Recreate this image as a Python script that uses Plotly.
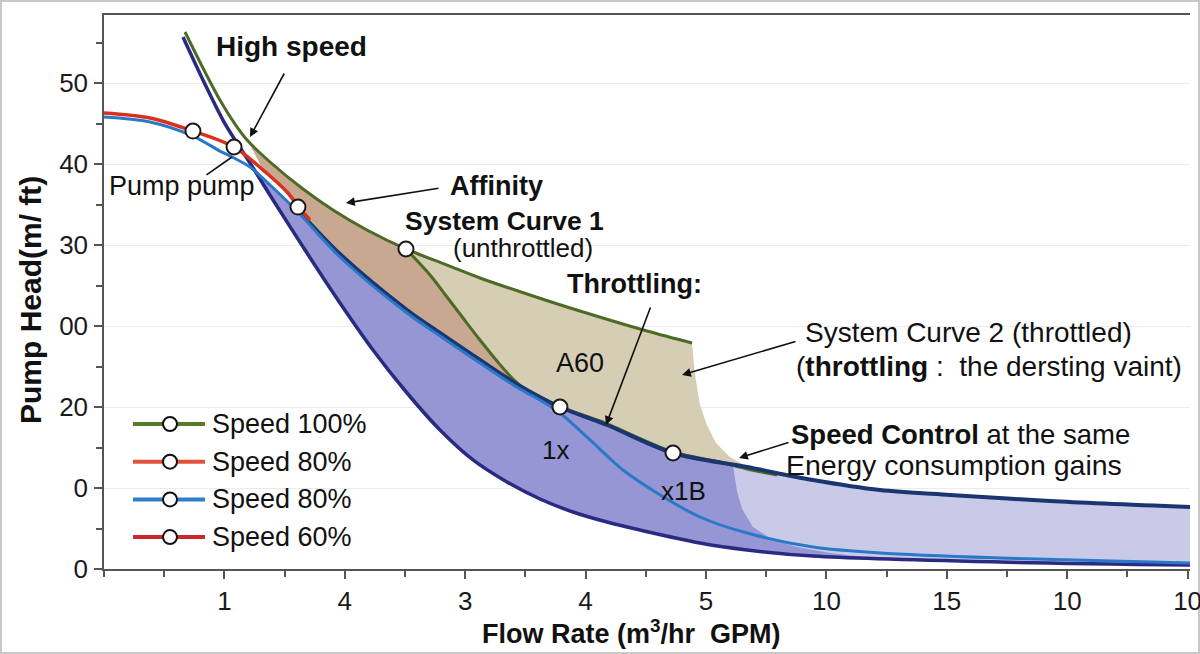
import plotly.graph_objects as go

# ---------------- data (chart units) ----------------
x_tickvals = [1, 2, 3, 4, 5, 6, 7, 8, 9]
x_ticktext = ["1", "4", "3", "4", "5", "10", "15", "10", "10"]
y_tickvals = [0, 10, 20, 30, 40, 50, 60]
y_ticktext = ["0", "0", "20", "00", "30", "40", "50"]

# Speed 100% (green, upper)
speed100_x = [0.673, 0.822, 0.963, 1.088, 1.196, 1.379, 1.653, 1.902, 2.184, 2.508,
              2.849, 3.123, 3.538, 3.953, 4.510, 4.884]
speed100_y = [66.30, 61.85, 57.90, 54.94, 52.84, 50.25, 46.91, 44.32, 41.85, 39.51,
              37.53, 35.93, 33.83, 31.85, 29.38, 27.90]

# System curve 1 (green, lower branch)
sys1_x = [2.508, 2.708, 2.849, 2.982, 3.123, 3.264, 3.397, 3.596, 3.787, 4.120,
          4.726, 5.116, 5.341, 5.590]
sys1_y = [39.51, 36.30, 33.58, 30.99, 28.27, 25.68, 23.46, 21.11, 20.00, 18.27,
          14.44, 13.21, 12.35, 11.60]

# Speed 80% (red)
speed80r_x = [0.0, 0.382, 0.739, 1.080, 1.321, 1.520, 1.611, 1.711]
speed80r_y = [56.30, 55.68, 54.07, 52.10, 49.26, 46.54, 44.81, 43.09]

# Speed 80% (blue)
speed80b_x = [0.0, 0.382, 0.739, 0.963, 1.080, 1.213, 1.379, 1.603, 1.960, 2.517,
              2.791, 3.123, 3.455, 3.621, 3.787, 4.037, 4.311, 4.593, 4.950, 5.341,
              5.889, 6.445, 7.442, 9.020]
speed80b_y = [55.80, 55.19, 53.46, 51.60, 50.74, 49.63, 47.41, 44.20, 38.52, 31.60,
              28.77, 25.43, 22.22, 20.86, 19.26, 15.93, 12.22, 9.38, 6.42, 4.44,
              2.72, 1.98, 1.36, 0.74]

# System curve 2 / throttled (navy, top)
sys2_x = [1.603, 1.960, 2.517, 2.791, 3.123, 3.455, 3.787, 4.178, 4.726, 5.341,
          5.889, 6.445, 7.027, 7.857, 9.020]
sys2_y = [44.44, 38.89, 31.98, 29.14, 25.80, 22.59, 20.00, 17.78, 14.32, 12.59,
          10.99, 9.75, 9.14, 8.40, 7.65]

# steep high-speed curve (indigo, bottom)
speed60_x = [0.656, 0.822, 0.988, 1.105, 1.213, 1.404, 1.686, 1.960, 2.234, 2.517,
             2.791, 3.065, 3.347, 3.621, 3.895, 4.178, 4.452, 4.950, 5.341, 5.889,
             7.442, 9.020]
speed60_y = [65.68, 60.37, 55.43, 52.59, 50.12, 45.56, 39.01, 32.84, 27.04, 21.73,
             17.16, 13.46, 10.74, 8.64, 7.04, 5.80, 4.81, 3.21, 2.35, 1.60,
             0.86, 0.49]

# boundaries of shaded regions
beige_edge_x = [4.909, 4.950, 5.008, 5.083, 5.199, 5.324, 5.590]
beige_edge_y = [23.95, 20.25, 17.78, 15.56, 13.83, 12.72, 11.85]
purple_edge_x = [5.224, 5.236, 5.257, 5.300, 5.390, 5.556, 5.756, 6.030, 6.445]
purple_edge_y = [12.84, 11.40, 9.60, 7.40, 5.19, 3.58, 2.72, 1.98, 1.23]

# operating points
points_x = [0.739, 1.080, 1.611, 2.508, 3.787, 4.726]
points_y = [54.07, 52.10, 44.69, 39.51, 20.00, 14.32]

legend_names = ["Speed 100%", "Speed 80%", "Speed 80%", "Speed 60%"]
legend_colors = ["#557a2a", "#e0533a", "#2f7fc8", "#c9282a"]

# ---------------- styling ----------------
FONT = "Liberation Sans, Arial, Helvetica, sans-serif"
W, H = 1200, 654
ML, MR, MT, MB = 104, 10, 15, 85
GREEN = "#4d6b24"
RED = "#d8321f"
BLUE = "#2a78c8"
NAVY = "#1b3570"
INDIGO = "#2a2a82"


def px(xp):
    return (xp - ML) / (W - ML - MR)


def py(yp):
    return (H - MB - yp) / (H - MT - MB)


def seg(xs, ys, lo, hi):
    pts = [(a, b) for a, b in zip(xs, ys) if lo <= a <= hi]
    return [p[0] for p in pts], [p[1] for p in pts]


def rev(t):
    return t[0][::-1], t[1][::-1]


def poly(*parts):
    X, Y = [], []
    for p in parts:
        X += list(p[0])
        Y += list(p[1])
    return X, Y


fig = go.Figure()


def add_fill(xy, color):
    fig.add_trace(go.Scatter(x=xy[0], y=xy[1], mode="lines", fill="toself",
                             fillcolor=color, line=dict(width=0, color=color),
                             hoverinfo="skip", showlegend=False))


lav = poly(seg(sys2_x, sys2_y, 4.72, 9.1), rev(seg(speed60_x, speed60_y, 4.9, 9.1)))
purple = poly(seg(speed80b_x, speed80b_y, 1.21, 1.61), seg(sys2_x, sys2_y, 1.65, 4.73),
              (purple_edge_x, purple_edge_y), rev(seg(speed60_x, speed60_y, 1.21, 6.0)))
beige = poly(seg(speed100_x, speed100_y, 2.508, 4.9), (beige_edge_x, beige_edge_y),
             rev(seg(sys2_x, sys2_y, 3.787, 5.35)), rev(seg(sys1_x, sys1_y, 2.508, 3.787)))
brown = poly(seg(speed100_x, speed100_y, 1.19, 2.51), seg(sys1_x, sys1_y, 2.6, 3.787),
             rev(seg(sys2_x, sys2_y, 1.6, 3.46)), rev(seg(speed80r_x, speed80r_y, 1.2, 1.6)))

add_fill(lav, "rgb(200,202,232)")
add_fill(purple, "rgb(150,150,212)")
add_fill(beige, "rgb(213,206,181)")
add_fill(brown, "rgb(201,168,145)")


def add_line(x, y, color, width):
    fig.add_trace(go.Scatter(x=x, y=y, mode="lines",
                             line=dict(color=color, width=width, shape="spline", smoothing=0.9),
                             hoverinfo="skip", showlegend=False))


add_line(speed60_x, speed60_y, INDIGO, 3.5)
add_line(sys1_x, sys1_y, GREEN, 3)
add_line(sys2_x, sys2_y, NAVY, 4)
add_line(speed80b_x, speed80b_y, BLUE, 3)
add_line(speed80r_x, speed80r_y, RED, 3.5)
add_line(speed100_x, speed100_y, GREEN, 3)

fig.add_trace(go.Scatter(x=points_x, y=points_y, mode="markers",
                         marker=dict(size=15, color="white", line=dict(color="#1a1a1a", width=2)),
                         hoverinfo="skip", showlegend=False))

# ---------------- annotations ----------------
ann = []


def text(xp, yp, s, size=26, bold=False, anchor="center"):
    ann.append(dict(x=px(xp), y=py(yp), xref="paper", yref="paper",
                    text=("<b>%s</b>" % s) if bold else s, showarrow=False,
                    xanchor=anchor, yanchor="middle",
                    font=dict(family=FONT, size=size, color="#111111")))


def arrow(tx, ty, sx, sy, head=2):
    ann.append(dict(x=px(tx), y=py(ty), xref="paper", yref="paper", text="",
                    showarrow=True, ax=sx - tx, ay=sy - ty, arrowhead=head,
                    arrowsize=1.1, arrowwidth=1.6, arrowcolor="#111111", standoff=0))


text(291, 46, "High speed", 28, True)
arrow(250, 137, 285, 72)
text(107, 186, "Pump pump", 27, anchor="left")
arrow(232, 157, 205, 176, head=0)
text(496, 186, "Affinity", 27, True)
arrow(346, 203, 440, 188)
text(504, 221, "System Curve 1", 26.5, True)
text(523, 248, "(unthrottled)", 26)
text(634, 284, "Throttling:", 27, True)
arrow(606, 425, 651, 306)
text(580, 363, "A60", 27)
text(555, 450, "1x", 26)
text(683, 491, "x1B", 26)
text(803, 332, "System Curve 2 (throttled)", 28, anchor="left")
text(794, 367, "(<b>throttling</b> :  the dersting vaint)", 28, anchor="left")
arrow(682, 375, 797, 341)
text(789, 434, "<b>Speed Control</b> at the same", 27.5, anchor="left")
text(784, 465, "Energy consumption gains", 28.5, anchor="left")
arrow(739, 458, 790, 442)

# axis titles
ann.append(dict(x=px(631), y=py(632), xref="paper", yref="paper",
                text="<b>Flow Rate (m<sup>3</sup>/hr  GPM)</b>", showarrow=False,
                xanchor="center", yanchor="middle",
                font=dict(family=FONT, size=27, color="#111111")))
ann.append(dict(x=px(30), y=py(300), xref="paper", yref="paper",
                text="<b>Pump Head(m/ ft)</b>", showarrow=False, textangle=-90,
                xanchor="center", yanchor="middle",
                font=dict(family=FONT, size=30, color="#111111")))

# manual legend
shapes = []
for i, (nm, col) in enumerate(zip(legend_names, legend_colors)):
    yy = 424 + i * 37.7
    shapes.append(dict(type="line", xref="paper", yref="paper",
                       x0=px(133), x1=px(205), y0=py(yy), y1=py(yy),
                       line=dict(color=col, width=4)))
    shapes.append(dict(type="circle", xref="paper", yref="paper",
                       xsizemode="pixel", ysizemode="pixel",
                       xanchor=px(170), yanchor=py(yy), x0=-7, x1=7, y0=-7, y1=7,
                       fillcolor="white", line=dict(color="#111111", width=2)))
    text(210, yy, nm, 27, anchor="left")

# image frame
shapes.append(dict(type="rect", xref="paper", yref="paper",
                   x0=px(1), x1=px(1199), y0=py(653), y1=py(1),
                   line=dict(color="#c8c8c8", width=2), layer="below"))

fig.update_layout(
    width=W, height=H,
    margin=dict(l=ML, r=MR, t=MT, b=MB, autoexpand=False),
    paper_bgcolor="white", plot_bgcolor="white",
    showlegend=False,
    annotations=ann, shapes=shapes,
    font=dict(family=FONT, color="#1a1a1a"),
)
fig.update_xaxes(range=[0, 9.02], tickmode="array", tickvals=x_tickvals, ticktext=x_ticktext,
                 automargin=False,
                 showgrid=False, zeroline=False, showline=True, linecolor="#555555", linewidth=1.5,
                 mirror=True, ticks="outside", ticklen=8, tickcolor="#555555", tickwidth=1.5,
                 tickfont=dict(family=FONT, size=26, color="#1a1a1a"), ticklabelstandoff=0,
                 ticklabeloverflow="allow",
                 minor=dict(dtick=0.5, tick0=0, ticks="outside", ticklen=6, tickcolor="#555555",
                            showgrid=False))
fig.update_yaxes(range=[0, 68.4], tickmode="array", tickvals=y_tickvals, ticktext=y_ticktext,
                 automargin=False,
                 showgrid=True, gridcolor="#ebebeb", gridwidth=1, zeroline=False,
                 showline=True, linecolor="#555555", linewidth=1.5,
                 ticks="outside", ticklen=8, tickcolor="#555555", tickwidth=1.5,
                 tickfont=dict(family=FONT, size=26, color="#1a1a1a"), ticklabelstandoff=1,
                 ticklabeloverflow="allow",
                 minor=dict(dtick=5, tick0=0, ticks="outside", ticklen=6, tickcolor="#555555",
                            showgrid=False))

fig.write_html("out.html")
